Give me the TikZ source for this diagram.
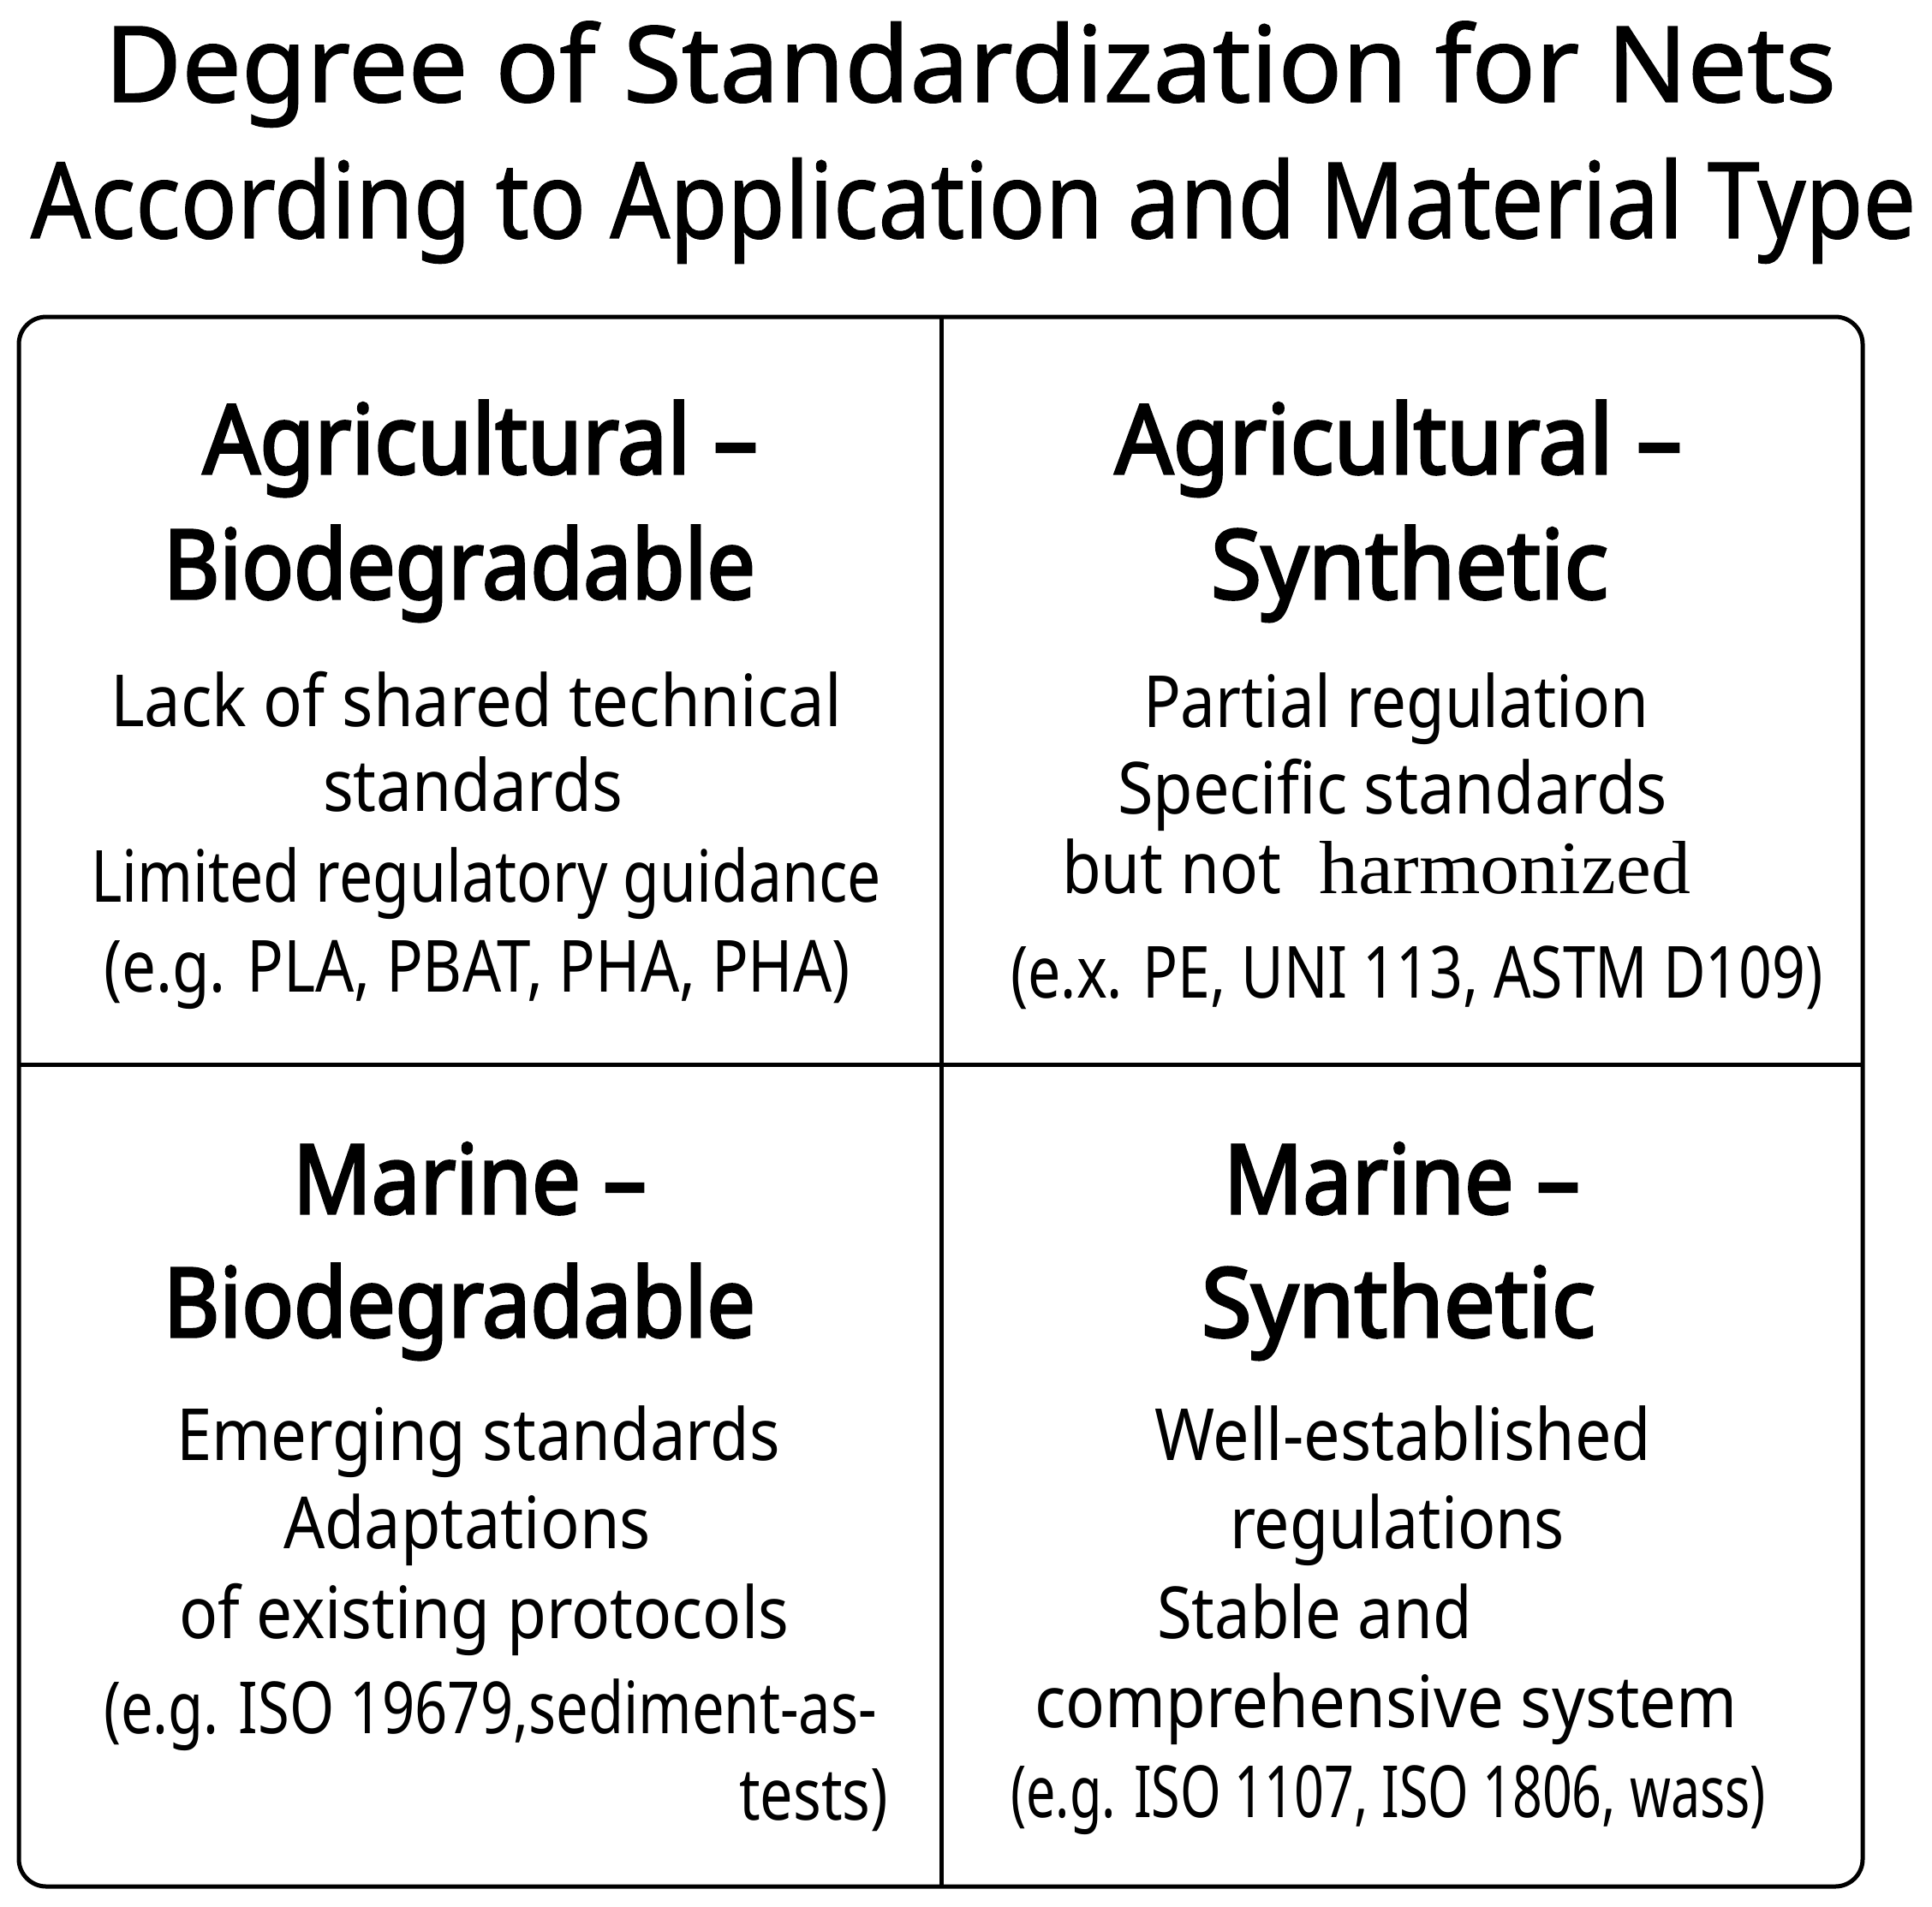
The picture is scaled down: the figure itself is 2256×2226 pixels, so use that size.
\documentclass[tikz,border=0pt]{standalone}
\usepackage{fontspec}
\usepackage{graphicx}
\setmainfont{Noto Sans}
\newfontfamily\hdrfont{Noto Sans}[FakeBold=3]
\newfontfamily\ttlfont{Noto Sans}[FakeBold=1.2]
\newfontfamily\serifh{Liberation Serif}
\newlength\pxu
\setlength\pxu{0.25pt}
\newcommand\fitw[2]{\resizebox{#1\pxu}{\height}{#2}}
\tikzset{
  txt/.style={inner sep=0pt, outer sep=0pt, anchor=base west, text=black},
  ttl/.style={txt, font=\ttlfont\fontsize{30.8}{34}\selectfont},
  hdr/.style={txt, font=\hdrfont\fontsize{28}{32}\selectfont},
  bdy/.style={txt, font=\fontsize{21}{25}\selectfont},
  frm/.style={line width=1.25pt, draw=black},
}
\begin{document}
\begin{tikzpicture}[x=0.25pt, y=-0.25pt]
\useasboundingbox (0,0) rectangle (2256,2226);
% title
\node[ttl] (t1) at (122,119) {\fitw{2022}{Degree of Standardization for Nets}};
\node[ttl] (t2) at (36,278) {\fitw{2201}{According to Application and Material Type}};
% frame and dividers
\draw[frm, rounded corners=8pt] (22,370) rectangle (2175,2203);
\coordinate (vt) at (1099,370);
\coordinate (vb) at (1099,2203);
\coordinate (hl) at (22,1243);
\coordinate (hr) at (2175,1243);
\draw[frm] (vt) -- (vb);
\draw[frm] (hl) -- (hr);
% top-left
\node[hdr] (a1) at (237,553) {\fitw{648}{Agricultural –}};
\node[hdr] (a2) at (191,699) {\fitw{691}{Biodegradable}};
\node[bdy] (a3) at (129,848) {\fitw{854}{Lack of shared technical}};
\node[bdy] (a4) at (377,947) {\fitw{350}{standards}};
\node[bdy] (a5) at (106,1053) {\fitw{923}{Limited regulatory guidance}};
\node[bdy] (a6) at (121,1158) {\fitw{872}{(e.g. PLA, PBAT, PHA, PHA)}};
% top-right
\node[hdr] (b1) at (1302,553) {\fitw{662}{Agricultural –}};
\node[hdr] (b2) at (1414,699) {\fitw{464}{Synthetic}};
\node[bdy] (b3) at (1335,849) {\fitw{590}{Partial regulation}};
\node[bdy] (b4) at (1305,950) {\fitw{642}{Specific standards}};
\node[bdy] (b5) at (1240,1043) {\fitw{256}{but not}};
\node[txt, font=\fontsize{22}{26}\selectfont\serifh] (b6) at (1540,1043) {\fitw{434}{harmonized}};
\node[bdy] (b7) at (1180,1165) {\fitw{949}{(e.x. PE, UNI 113, ASTM D109)}};
% bottom-left
\node[hdr] (c1) at (342,1417) {\fitw{413}{Marine –}};
\node[hdr] (c2) at (191,1561) {\fitw{691}{Biodegradable}};
\node[bdy] (c3) at (206,1705) {\fitw{705}{Emerging standards}};
\node[bdy] (c4) at (331,1808) {\fitw{429}{Adaptations}};
\node[bdy] (c5) at (209,1913) {\fitw{712}{of existing protocols}};
\node[bdy] (c6) at (121,2024) {\fitw{903}{(e.g. ISO 19679,sediment-as-}};
\node[bdy] (c7) at (863,2125) {\fitw{174}{tests)}};
% bottom-right
\node[hdr] (d1) at (1429,1417) {\fitw{416}{Marine –}};
\node[hdr] (d2) at (1403,1561) {\fitw{460}{Synthetic}};
\node[bdy] (d3) at (1348,1705) {\fitw{580}{Well-established}};
\node[bdy] (d4) at (1436,1808) {\fitw{391}{regulations}};
\node[bdy] (d5) at (1351,1913) {\fitw{368}{Stable and}};
\node[bdy] (d6) at (1208,2017) {\fitw{821}{comprehensive system}};
\node[bdy] (d7) at (1180,2122) {\fitw{882}{(e.g. ISO 1107, ISO 1806, wass)}};
\end{tikzpicture}
\end{document}
